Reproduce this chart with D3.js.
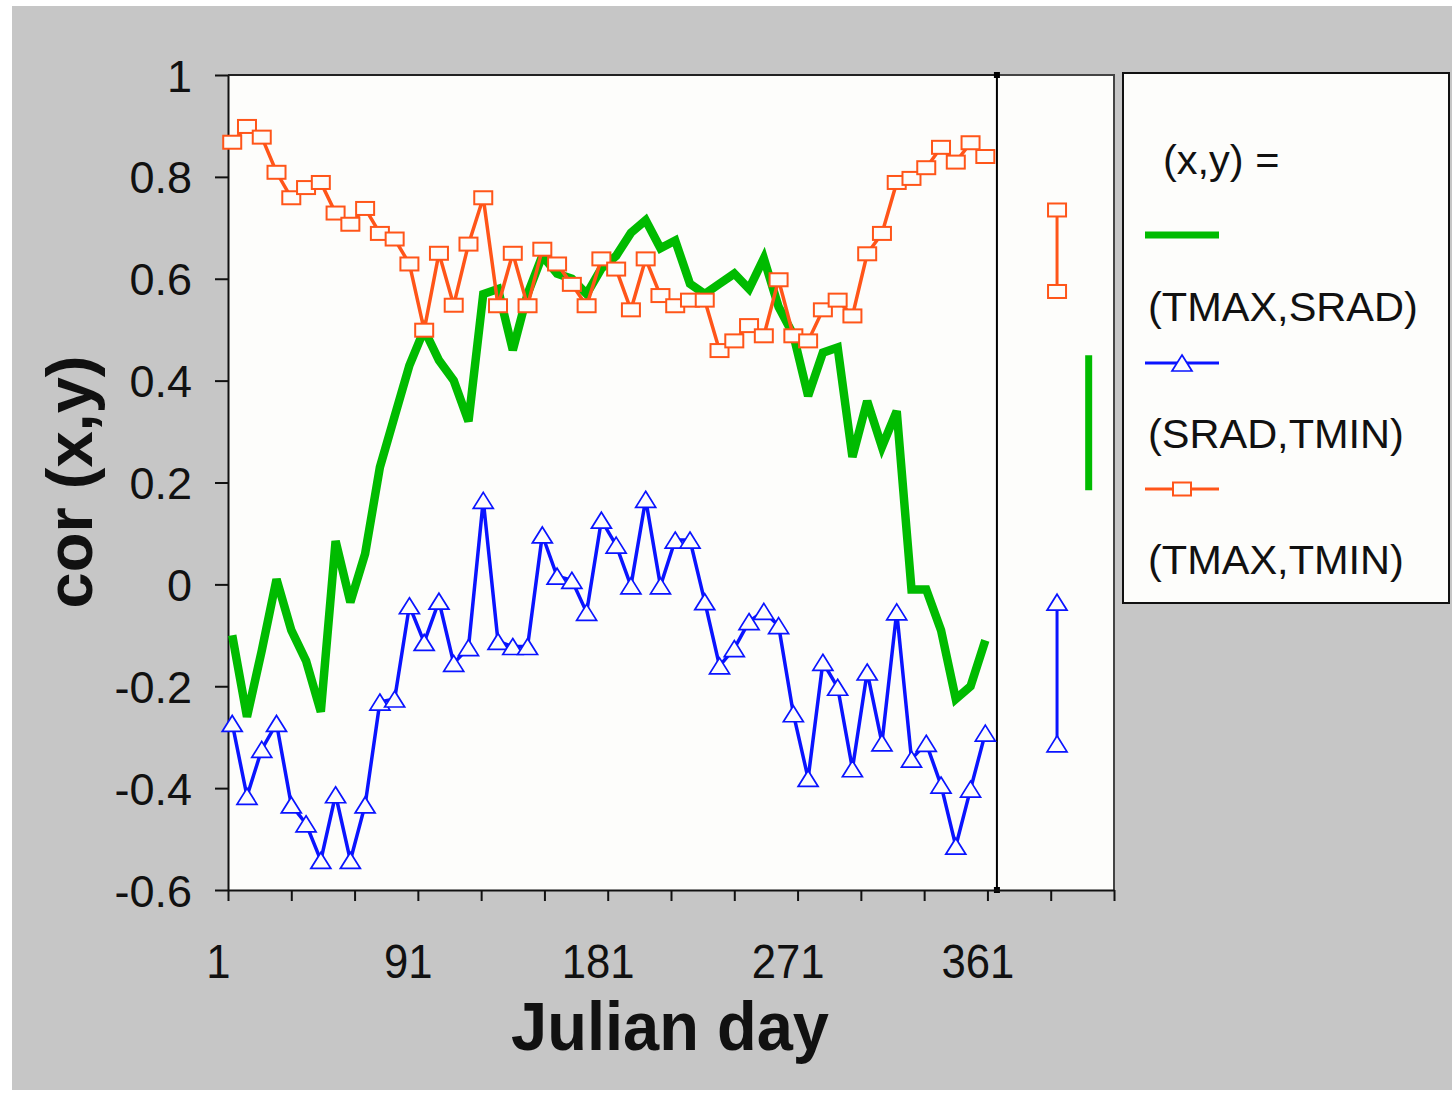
<!DOCTYPE html>
<html>
<head>
<meta charset="utf-8">
<script src="https://cdn.jsdelivr.net/npm/d3@7"></script>
<style>
  body { margin: 0; background: #ffffff; }
  svg { display: block; }
  text { font-family: "Liberation Sans", Arial, Helvetica, sans-serif; fill: #111; }
</style>
</head>
<body>
<svg id="chart" width="1455" height="1093"></svg>
<script>
// Weekly sampling days (Julian day)
const days = [3, 10, 17, 24, 31, 38, 45, 52, 59, 66, 73, 80, 87, 94, 101, 108, 115, 122, 129, 136,
  143, 150, 157, 164, 171, 178, 185, 192, 199, 206, 213, 220, 227, 234, 241, 248, 255, 262, 269, 276,
  283, 290, 297, 304, 311, 318, 325, 332, 339, 346, 353, 360];

// cor(TMAX, SRAD)
const tmaxSrad = [-0.10, -0.26, -0.13, 0.01, -0.09, -0.15, -0.25, 0.085, -0.035, 0.06,
  0.23, 0.33, 0.43, 0.50, 0.44, 0.40, 0.32, 0.57, 0.58, 0.46,
  0.57, 0.645, 0.61, 0.60, 0.57, 0.62, 0.645, 0.69, 0.715, 0.66,
  0.675, 0.59, 0.57, 0.59, 0.61, 0.58, 0.64, 0.545, 0.49, 0.37,
  0.455, 0.465, 0.25, 0.36, 0.27, 0.34, -0.01, -0.01, -0.09, -0.225,
  -0.20, -0.11];

// cor(SRAD, TMIN)
const sradTmin = [-0.273, -0.416, -0.324, -0.273, -0.433, -0.470, -0.542, -0.413, -0.542, -0.433,
  -0.231, -0.225, -0.042, -0.114, -0.033, -0.155, -0.124, 0.165, -0.112, -0.122,
  -0.122, 0.097, 0.016, 0.008, -0.055, 0.126, 0.077, -0.003, 0.167, -0.003,
  0.087, 0.087, -0.034, -0.160, -0.126, -0.073, -0.053, -0.081, -0.254, -0.381,
  -0.153, -0.202, -0.362, -0.172, -0.311, -0.054, -0.343, -0.312, -0.394, -0.514,
  -0.402, -0.292];

// cor(TMAX, TMIN)
const tmaxTmin = [0.868, 0.899, 0.878, 0.809, 0.759, 0.779, 0.789, 0.729, 0.707, 0.738,
  0.689, 0.678, 0.629, 0.499, 0.650, 0.548, 0.668, 0.759, 0.547, 0.650,
  0.547, 0.658, 0.629, 0.589, 0.547, 0.639, 0.619, 0.539, 0.639, 0.567,
  0.547, 0.558, 0.558, 0.459, 0.478, 0.508, 0.488, 0.598, 0.488, 0.478,
  0.539, 0.558, 0.527, 0.649, 0.689, 0.789, 0.797, 0.818, 0.858, 0.829,
  0.867, 0.840];

// Range bars drawn past the end of the year
const rangeKeys = ["tmaxTmin", "tmaxSrad", "sradTmin"];
const rangeDay = [394, 409, 394];
const rangeLow = [0.575, 0.185, -0.313];
const rangeHigh = [0.735, 0.45, -0.035];

const yTicks = [-0.6, -0.4, -0.2, 0, 0.2, 0.4, 0.6, 0.8, 1];
const yTickLabels = ["-0.6", "-0.4", "-0.2", "0", "0.2", "0.4", "0.6", "0.8", "1"];
const xTicks = [1, 31, 61, 91, 121, 151, 181, 211, 241, 271, 301, 331, 361, 391, 421];
const xLabelDays = [1, 91, 181, 271, 361];
const xLabelText = ["1", "91", "181", "271", "361"];
const yearEnd = 365.5;

const legendLabels = ["(TMAX,SRAD)", "(SRAD,TMIN)", "(TMAX,TMIN)"];

const COLORS = { tmaxSrad: "#00bb00", sradTmin: "#0a14ff", tmaxTmin: "#ff5519" };
const PANEL_BG = "#fdfdfb";

const svg = d3.select("#chart");

const x = d3.scaleLinear().domain([1, 421]).range([228, 1114]);
const y = d3.scaleLinear().domain([-0.6, 1]).range([890, 75]);

// grey page background
svg.append("rect").attr("x", 12).attr("y", 6).attr("width", 1440).attr("height", 1084)
  .attr("fill", "#c6c6c6");

// plotting area
svg.append("rect")
  .attr("x", x(1)).attr("y", y(1))
  .attr("width", x(421) - x(1)).attr("height", y(-0.6) - y(1))
  .attr("fill", PANEL_BG);

// frame: top edge of main panel and outline of the side panel
svg.append("line").attr("x1", x(1)).attr("x2", x(yearEnd)).attr("y1", y(1)).attr("y2", y(1))
  .attr("stroke", "#222").attr("stroke-width", 2);
svg.append("path")
  .attr("d", `M${x(yearEnd)},${y(1)}H${x(421)}V${y(-0.6)}`)
  .attr("fill", "none").attr("stroke", "#444").attr("stroke-width", 2);

// year-end divider with square end caps
svg.append("line").attr("x1", x(yearEnd)).attr("x2", x(yearEnd)).attr("y1", y(1)).attr("y2", y(-0.6))
  .attr("stroke", "#000").attr("stroke-width", 2);
[1, -0.6].forEach(v => {
  svg.append("rect").attr("x", x(yearEnd) - 3).attr("y", y(v) - 3).attr("width", 6).attr("height", 6)
    .attr("fill", "#000");
});

// y axis
const yAxis = svg.append("g").attr("transform", `translate(${x(1)},0)`)
  .call(d3.axisLeft(y).tickValues(yTicks).tickFormat((d, i) => yTickLabels[i])
    .tickSizeInner(13).tickSizeOuter(0).tickPadding(23));
yAxis.select(".domain").attr("stroke", "#111").attr("stroke-width", 2);
yAxis.selectAll(".tick line").attr("stroke", "#111").attr("stroke-width", 2);
yAxis.selectAll(".tick text")
  .attr("dy", null).attr("y", 16)
  .style("font-size", "45px").style("font-family", '"Liberation Sans", Arial, sans-serif')
  .attr("fill", "#111");

// x axis
const xAxis = svg.append("g").attr("transform", `translate(0,${y(-0.6)})`)
  .call(d3.axisBottom(x).tickValues(xTicks).tickFormat(d => {
    const i = xLabelDays.indexOf(d);
    return i >= 0 ? xLabelText[i] : "";
  }).tickSizeInner(11).tickSizeOuter(0));
xAxis.select(".domain").attr("stroke", "#111").attr("stroke-width", 2);
xAxis.selectAll(".tick line").attr("stroke", "#111").attr("stroke-width", 2);
xAxis.selectAll(".tick text")
  .attr("y", 0).attr("dy", null)
  .attr("transform", "translate(-10,88) scale(1.04,1.15)")
  .style("font-size", "42px").style("font-family", '"Liberation Sans", Arial, sans-serif')
  .attr("fill", "#111");

// axis titles
svg.append("text")
  .attr("transform", "translate(670,1050) scale(1,1.04)")
  .attr("text-anchor", "middle")
  .style("font-size", "65px").style("font-weight", "bold")
  .text("Julian day");
svg.append("text")
  .attr("transform", "translate(92,482) rotate(-90)")
  .attr("text-anchor", "middle")
  .style("font-size", "65px").style("font-weight", "bold")
  .text("cor (x,y)");

// series
const seriesData = {
  tmaxSrad: days.map((d, i) => ({ day: d, v: tmaxSrad[i] })),
  sradTmin: days.map((d, i) => ({ day: d, v: sradTmin[i] })),
  tmaxTmin: days.map((d, i) => ({ day: d, v: tmaxTmin[i] }))
};
const line = d3.line().x(d => x(d.day)).y(d => y(d.v));

const triangle = "M0,-8L10,8L-10,8Z";
function drawTriangle(g, cx, cy) {
  g.append("path").attr("d", triangle).attr("transform", `translate(${cx},${cy})`)
    .attr("fill", PANEL_BG).attr("stroke", COLORS.sradTmin).attr("stroke-width", 1.7);
}
function drawSquare(g, cx, cy) {
  g.append("rect").attr("x", cx - 9).attr("y", cy - 6.5).attr("width", 18).attr("height", 13)
    .attr("fill", PANEL_BG).attr("stroke", COLORS.tmaxTmin).attr("stroke-width", 2);
}

const plot = svg.append("g");

plot.append("path").datum(seriesData.tmaxSrad).attr("d", line)
  .attr("fill", "none").attr("stroke", COLORS.tmaxSrad).attr("stroke-width", 8.5)
  .attr("stroke-linejoin", "miter").attr("stroke-miterlimit", 3);

plot.append("path").datum(seriesData.sradTmin).attr("d", line)
  .attr("fill", "none").attr("stroke", COLORS.sradTmin).attr("stroke-width", 3.5);
const triG = plot.append("g");
seriesData.sradTmin.forEach(d => drawTriangle(triG, x(d.day), y(d.v)));

plot.append("path").datum(seriesData.tmaxTmin).attr("d", line)
  .attr("fill", "none").attr("stroke", COLORS.tmaxTmin).attr("stroke-width", 3.5);
const sqG = plot.append("g");
seriesData.tmaxTmin.forEach(d => drawSquare(sqG, x(d.day), y(d.v)));

// range bars in the side panel
const rg = svg.append("g");
rangeKeys.forEach((k, i) => {
  const cx = x(rangeDay[i]);
  rg.append("line").attr("x1", cx).attr("x2", cx)
    .attr("y1", y(rangeHigh[i])).attr("y2", y(rangeLow[i]))
    .attr("stroke", COLORS[k]).attr("stroke-width", k === "tmaxSrad" ? 7 : 3);
  if (k === "tmaxTmin") {
    drawSquare(rg, cx, y(rangeHigh[i]));
    drawSquare(rg, cx, y(rangeLow[i]));
  } else if (k === "sradTmin") {
    drawTriangle(rg, cx, y(rangeHigh[i]));
    drawTriangle(rg, cx, y(rangeLow[i]));
  }
});

// legend
const lg = svg.append("g");
lg.append("rect").attr("x", 1123).attr("y", 73).attr("width", 326).attr("height", 530)
  .attr("fill", PANEL_BG).attr("stroke", "#111").attr("stroke-width", 2);
lg.append("text").attr("x", 1163).attr("y", 174).style("font-size", "41.5px").text("(x,y) =");

const keyY = [235, 363, 489];
const labelY = [321, 448, 574];
const keyOrder = ["tmaxSrad", "sradTmin", "tmaxTmin"];
keyOrder.forEach((k, i) => {
  lg.append("line").attr("x1", 1145).attr("x2", 1219).attr("y1", keyY[i]).attr("y2", keyY[i])
    .attr("stroke", COLORS[k]).attr("stroke-width", k === "tmaxSrad" ? 7 : 3);
  if (k === "sradTmin") drawTriangle(lg, 1182, keyY[i]);
  if (k === "tmaxTmin") drawSquare(lg, 1182, keyY[i]);
  lg.append("text").attr("x", 1148).attr("y", labelY[i]).style("font-size", "41.5px")
    .text(legendLabels[i]);
});
</script>
</body>
</html>
